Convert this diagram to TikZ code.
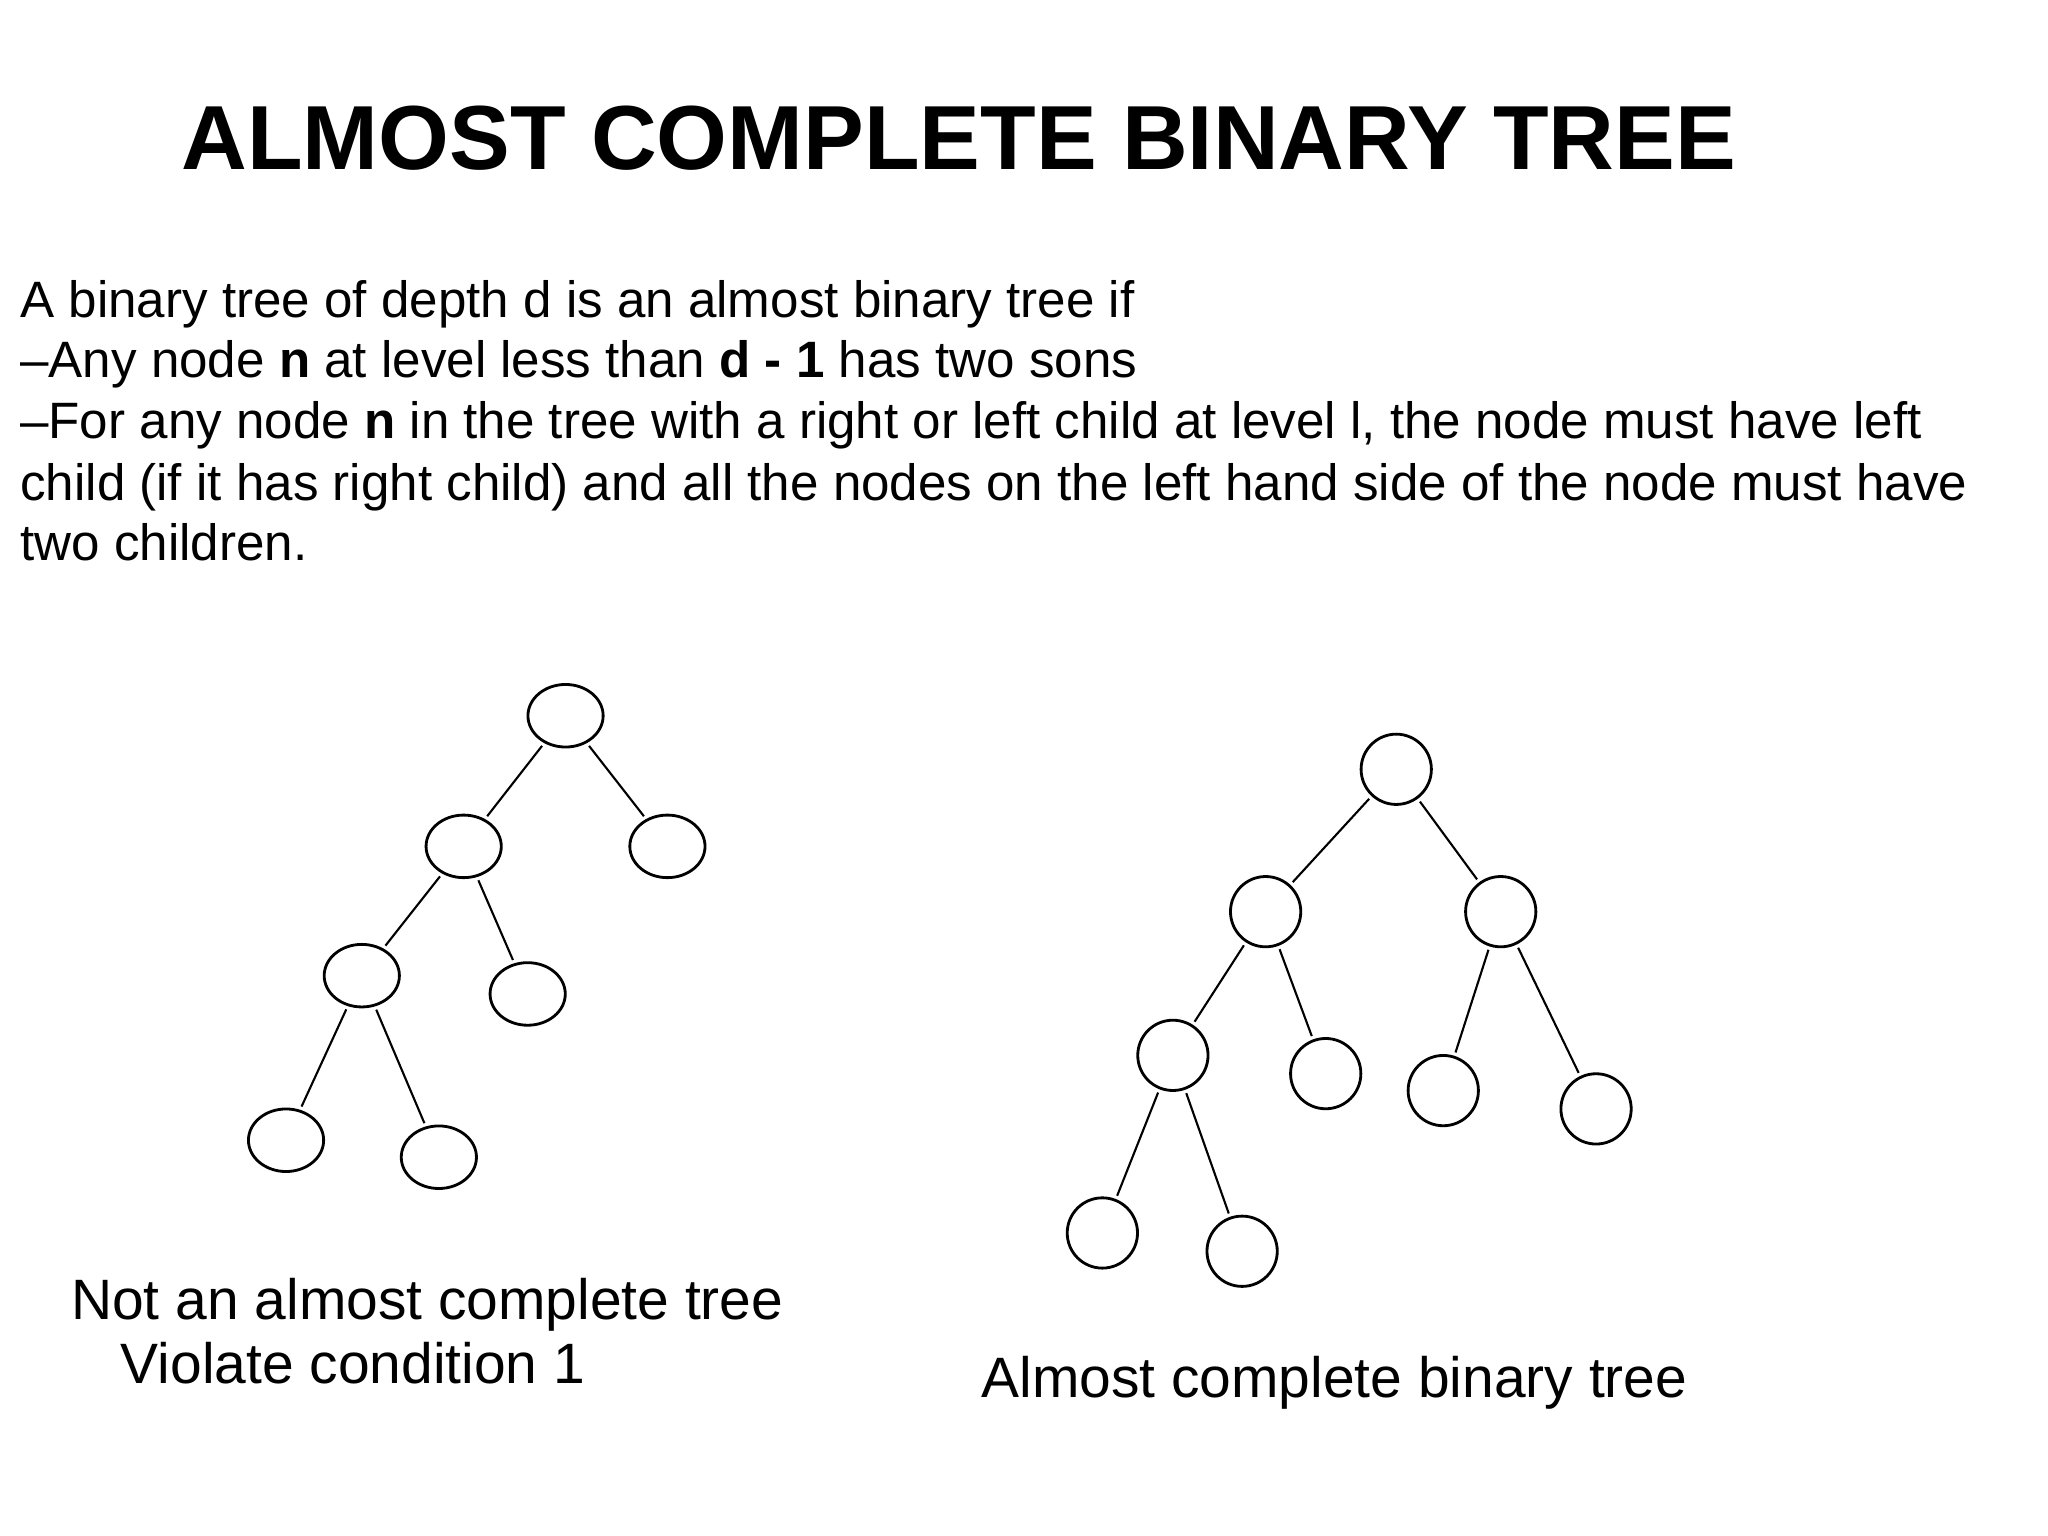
\documentclass[tikz,border=0pt]{standalone}
\usepackage{fontspec}
\setmainfont{Liberation Sans}
\usetikzlibrary{shapes.geometric}
\begin{document}
\begin{tikzpicture}[x=0.013061cm,y=-0.013061cm,
  el/.style={draw,ellipse,minimum width=21.4pt,minimum height=17.8pt,inner sep=0pt,line width=0.8pt},
  ci/.style={draw,circle,minimum size=20pt,inner sep=0pt,line width=0.8pt},
  txt/.style={anchor=base west,inner sep=0pt,font=\fontsize{14.55}{17}\selectfont},
  lab/.style={anchor=base west,inner sep=0pt,font=\fontsize{16.2}{19}\selectfont},
  ed/.style={line width=0.6pt,shorten <=1pt,shorten >=1pt}]
\useasboundingbox (0,0) rectangle (1568,1176);
\node[anchor=base,inner sep=0pt,font=\fontsize{25.9}{30}\selectfont\bfseries] (title) at (734,130) {ALMOST COMPLETE BINARY TREE};
\node[txt] (l1) at (15,243) {A binary tree of depth d is an almost binary tree if};
\node[txt] (l2) at (15,289) {–Any node \textbf{n} at level less than \textbf{d - 1} has two sons};
\node[txt] (l3) at (15,336) {–For any node \textbf{n} in the tree with a right or left child at level l, the node must have left};
\node[txt] (l4) at (15,383) {child (if it has right child) and all the nodes on the left hand side of the node must have};
\node[txt] (l5) at (15,429) {two children.};
% left tree
\node[el] (a) at (433,548) {};
\node[el] (b) at (355,648) {};
\node[el] (c) at (511,648) {};
\node[el] (d) at (277,747) {};
\node[el] (e) at (404,761) {};
\node[el] (f) at (219,873) {};
\node[el] (g) at (336,886) {};
\foreach \u/\v in {a/b,a/c,b/d,b/e,d/f,d/g} \draw[ed] (\u) -- (\v);
% right tree
\node[ci] (r) at (1069,589) {};
\node[ci] (r1) at (969,698) {};
\node[ci] (r2) at (1149,698) {};
\node[ci] (r3) at (898,808) {};
\node[ci] (r4) at (1015,822) {};
\node[ci] (r5) at (1105,835) {};
\node[ci] (r6) at (1222,849) {};
\node[ci] (r7) at (844,944) {};
\node[ci] (r8) at (951,958) {};
\foreach \u/\v in {r/r1,r/r2,r1/r3,r1/r4,r2/r5,r2/r6,r3/r7,r3/r8} \draw[ed] (\u) -- (\v);
\node[lab] (n1) at (54,1010) {Not an almost complete tree};
\node[lab] (n2) at (92,1059) {Violate condition 1};
\node[lab] (n3) at (751,1070) {Almost complete binary tree};
\end{tikzpicture}
\end{document}
